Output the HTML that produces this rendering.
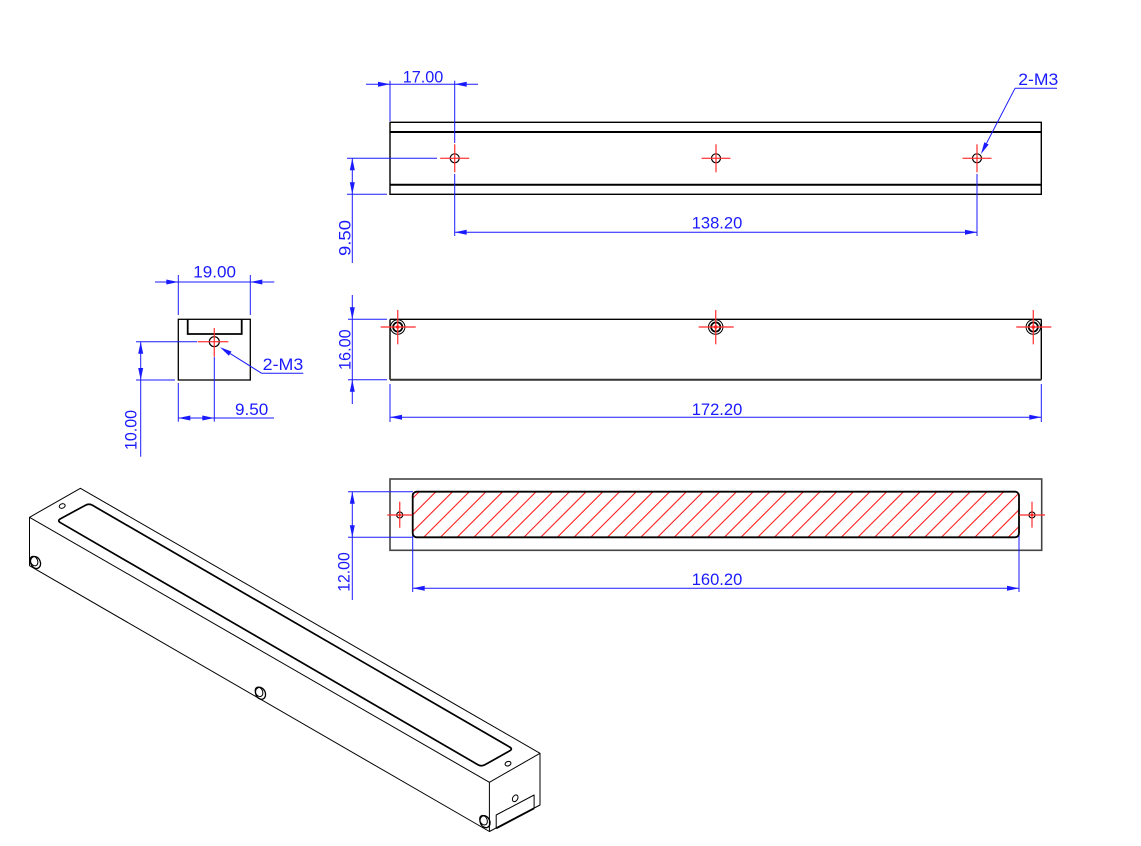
<!DOCTYPE html>
<html>
<head>
<meta charset="utf-8">
<style>
html,body{margin:0;padding:0;background:#fff;}
svg{display:block;}
text{font-family:"Liberation Sans",sans-serif;font-size:17px;fill:#1a1aff;}
</style>
</head>
<body>
<svg width="1141" height="846" viewBox="0 0 1141 846" xmlns="http://www.w3.org/2000/svg">
<defs>
<clipPath id="slotclip"><rect x="412.7" y="491.7" width="606.3" height="45.6" rx="4" ry="4"/></clipPath>
</defs>
<rect x="0" y="0" width="1141" height="846" fill="#fff"/>

<!-- ================= TOP VIEW ================= -->
<g fill="none" stroke="#000">
<rect x="390" y="122.3" width="651.3" height="72" stroke-width="1.4"/>
<line x1="390" y1="132" x2="1041.3" y2="132" stroke-width="2"/>
<line x1="390" y1="184.7" x2="1041.3" y2="184.7" stroke-width="2"/>
<circle cx="454.7" cy="158.3" r="4.5" stroke-width="1.2"/>
<circle cx="716" cy="158.3" r="4.5" stroke-width="1.2"/>
<circle cx="977" cy="158.3" r="4.5" stroke-width="1.2"/>
</g>
<g stroke="#ff2a2a" stroke-opacity="0.85" stroke-width="1.4">
<line x1="440.2" y1="158.3" x2="469.2" y2="158.3"/><line x1="454.7" y1="144.3" x2="454.7" y2="172.3"/>
<line x1="701.5" y1="158.3" x2="730.5" y2="158.3"/><line x1="716" y1="144.3" x2="716" y2="172.3"/>
<line x1="962.5" y1="158.3" x2="991.5" y2="158.3"/><line x1="977" y1="144.3" x2="977" y2="172.3"/>
</g>
<g stroke="#1a1aff" stroke-width="1" fill="none">
<line x1="390" y1="80.7" x2="390" y2="121"/>
<line x1="454.7" y1="80.7" x2="454.7" y2="143"/>
<line x1="454.7" y1="174" x2="454.7" y2="236"/>
<line x1="366" y1="84.3" x2="478" y2="84.3"/>
<line x1="352.3" y1="158.3" x2="352.3" y2="263"/>
<line x1="347" y1="158.3" x2="437" y2="158.3"/>
<line x1="347" y1="194.3" x2="387" y2="194.3"/>
<line x1="977" y1="174" x2="977" y2="236"/>
<line x1="454.7" y1="232.3" x2="977" y2="232.3"/>
<line x1="1015" y1="88.3" x2="1057" y2="88.3"/>
<line x1="1015" y1="88.3" x2="986.5" y2="143.3"/>
</g>
<g fill="#1a1aff">
<polygon points="390,84.3 378,81.8 378,86.8"/>
<polygon points="454.7,84.3 466.7,81.8 466.7,86.8"/>
<polygon points="352.3,158.3 349.8,170.3 354.8,170.3"/>
<polygon points="352.3,194.3 349.8,182.3 354.8,182.3"/>
<polygon points="454.7,232.3 466.7,229.8 466.7,234.8"/>
<polygon points="977,232.3 965,229.8 965,234.8"/>
<polygon points="981,154 988.7,144.5 984.3,142.2"/>
</g>
<text x="402.7" y="82.7" textLength="40.6" lengthAdjust="spacingAndGlyphs">17.00</text>
<text x="691.7" y="228.3" textLength="50.6" lengthAdjust="spacingAndGlyphs">138.20</text>
<text x="1018.3" y="85" textLength="40" lengthAdjust="spacingAndGlyphs">2-M3</text>
<text transform="translate(350.5,256) rotate(-90)" x="0" y="0" textLength="36" lengthAdjust="spacingAndGlyphs">9.50</text>

<!-- ================= SIDE VIEW ================= -->
<g fill="none" stroke="#000">
<rect x="178.3" y="319.3" width="72" height="60.7" stroke-width="1.3"/>
<polyline points="187.7,319.3 187.7,334 241.7,334 241.7,319.3" stroke-width="1.8"/>
<circle cx="214.3" cy="341.7" r="5" stroke-width="1.2"/>
</g>
<g stroke="#ff2a2a" stroke-opacity="0.85" stroke-width="1.4">
<line x1="197.7" y1="341.7" x2="228.3" y2="341.7"/><line x1="214.3" y1="328" x2="214.3" y2="356.7"/>
</g>
<g stroke="#1a1aff" stroke-width="1" fill="none">
<line x1="178.3" y1="275" x2="178.3" y2="315"/>
<line x1="250.3" y1="275" x2="250.3" y2="315"/>
<line x1="155" y1="282" x2="274.3" y2="282"/>
<line x1="140.7" y1="341.7" x2="140.7" y2="456.7"/>
<line x1="136" y1="341.7" x2="197" y2="341.7"/>
<line x1="136" y1="380" x2="175" y2="380"/>
<line x1="178.3" y1="383" x2="178.3" y2="421.7"/>
<line x1="214.3" y1="357" x2="214.3" y2="421.7"/>
<line x1="178.3" y1="418" x2="274" y2="418"/>
<line x1="261.7" y1="373.3" x2="303.3" y2="373.3"/>
<line x1="261.7" y1="373.3" x2="230.2" y2="353.6"/>
</g>
<g fill="#1a1aff">
<polygon points="178.3,282 166.3,279.5 166.3,284.5"/>
<polygon points="250.3,282 262.3,279.5 262.3,284.5"/>
<polygon points="140.7,341.7 138.2,353.7 143.2,353.7"/>
<polygon points="140.7,380 138.2,368 143.2,368"/>
<polygon points="178.3,418 190.3,415.5 190.3,420.5"/>
<polygon points="214.3,418 202.3,415.5 202.3,420.5"/>
<polygon points="220,347.3 231.5,351.5 228.9,355.7"/>
</g>
<text x="193.3" y="277.7" textLength="42.7" lengthAdjust="spacingAndGlyphs">19.00</text>
<text x="262.7" y="370" textLength="40.6" lengthAdjust="spacingAndGlyphs">2-M3</text>
<text x="235" y="415" textLength="33.3" lengthAdjust="spacingAndGlyphs">9.50</text>
<text transform="translate(136.7,450) rotate(-90)" x="0" y="0" textLength="40" lengthAdjust="spacingAndGlyphs">10.00</text>

<!-- ================= FRONT VIEW ================= -->
<g fill="none" stroke="#000">
<line x1="390" y1="319.3" x2="1041.3" y2="319.3" stroke-width="1.4"/>
<line x1="390" y1="319.3" x2="390" y2="379.7" stroke-width="1.4"/>
<line x1="1041.3" y1="319.3" x2="1041.3" y2="379.7" stroke-width="1.4"/>
<line x1="390" y1="379.7" x2="1041.3" y2="379.7" stroke="#333" stroke-width="2"/>
<circle cx="397.7" cy="327" r="7.2" stroke-width="1"/>
<circle cx="397.7" cy="327" r="4.6" stroke-width="1.8"/>
<circle cx="715.7" cy="327" r="7.2" stroke-width="1"/>
<circle cx="715.7" cy="327" r="4.6" stroke-width="1.8"/>
<circle cx="1033.3" cy="327" r="7.2" stroke-width="1"/>
<circle cx="1033.3" cy="327" r="4.6" stroke-width="1.8"/>
</g>
<g stroke="#ff2a2a" stroke-opacity="0.85" stroke-width="1.4">
<line x1="380.7" y1="327" x2="415.7" y2="327"/><line x1="397.7" y1="310" x2="397.7" y2="344.3"/>
<line x1="698.7" y1="327" x2="733.7" y2="327"/><line x1="715.7" y1="310" x2="715.7" y2="344.3"/>
<line x1="1016.3" y1="327" x2="1051.3" y2="327"/><line x1="1033.3" y1="310" x2="1033.3" y2="344.3"/>
</g>
<g fill="#ff2020">
<circle cx="397.7" cy="327" r="1.8"/><circle cx="715.7" cy="327" r="1.8"/><circle cx="1033.3" cy="327" r="1.8"/>
</g>
<g stroke="#1a1aff" stroke-width="1" fill="none">
<line x1="352.3" y1="295" x2="352.3" y2="404"/>
<line x1="348" y1="319.3" x2="387" y2="319.3"/>
<line x1="348" y1="379.7" x2="387" y2="379.7"/>
<line x1="390" y1="384" x2="390" y2="422"/>
<line x1="1041.3" y1="384" x2="1041.3" y2="422"/>
<line x1="390" y1="417.3" x2="1041.3" y2="417.3"/>
</g>
<g fill="#1a1aff">
<polygon points="352.3,319.3 349.8,307.3 354.8,307.3"/>
<polygon points="352.3,379.7 349.8,391.7 354.8,391.7"/>
<polygon points="390,417.3 402,414.8 402,419.8"/>
<polygon points="1041.3,417.3 1029.3,414.8 1029.3,419.8"/>
</g>
<text transform="translate(350.7,370) rotate(-90)" x="0" y="0" textLength="40.7" lengthAdjust="spacingAndGlyphs">16.00</text>
<text x="691.7" y="415" textLength="50.6" lengthAdjust="spacingAndGlyphs">172.20</text>

<!-- ================= BOTTOM VIEW ================= -->
<rect x="390" y="479" width="651.7" height="71.3" fill="none" stroke="#444" stroke-width="1.6"/>
<g clip-path="url(#slotclip)" stroke="#ff2020" stroke-width="1.1">
<path d="M373.9 537L419.9 491M390.6 537L436.6 491M407.3 537L453.3 491M424 537L470 491M440.7 537L486.7 491M457.4 537L503.4 491M474.1 537L520.1 491M490.8 537L536.8 491M507.5 537L553.5 491M524.2 537L570.2 491M540.9 537L586.9 491M557.6 537L603.6 491M574.3 537L620.3 491M591 537L637 491M607.7 537L653.7 491M624.4 537L670.4 491M641.1 537L687.1 491M657.8 537L703.8 491M674.5 537L720.5 491M691.2 537L737.2 491M707.9 537L753.9 491M724.6 537L770.6 491M741.3 537L787.3 491M758 537L804 491M774.7 537L820.7 491M791.4 537L837.4 491M808.1 537L854.1 491M824.8 537L870.8 491M841.5 537L887.5 491M858.2 537L904.2 491M874.9 537L920.9 491M891.6 537L937.6 491M908.3 537L954.3 491M925 537L971 491M941.7 537L987.7 491M958.4 537L1004.4 491M975.1 537L1021.1 491M991.8 537L1037.8 491M1008.5 537L1054.5 491"/>
</g>
<g stroke="#1a1aff" stroke-width="1" fill="none">
<line x1="352.3" y1="491.7" x2="352.3" y2="600"/>
<line x1="348" y1="491.7" x2="413" y2="491.7"/>
<line x1="348" y1="537.3" x2="413" y2="537.3"/>
<line x1="412.7" y1="493" x2="412.7" y2="592"/>
<line x1="1019" y1="535" x2="1019" y2="592"/>
<line x1="412.7" y1="588.3" x2="1019" y2="588.3"/>
</g>
<rect x="412.7" y="491.7" width="606.3" height="45.6" rx="4" ry="4" fill="none" stroke="#000" stroke-width="1.8"/>
<g fill="none" stroke="#000" stroke-width="1.2">
<circle cx="399.7" cy="515" r="3"/>
<circle cx="1032" cy="515" r="3"/>
</g>
<g stroke="#ff2a2a" stroke-opacity="0.85" stroke-width="1.4">
<line x1="387.3" y1="515" x2="412.3" y2="515"/><line x1="399.7" y1="501.7" x2="399.7" y2="527.7"/>
<line x1="1019.3" y1="515" x2="1045" y2="515"/><line x1="1032" y1="501.7" x2="1032" y2="527.7"/>
</g>
<g fill="#ff2020"><circle cx="399.7" cy="515" r="1.2"/><circle cx="1032" cy="515" r="1.2"/></g>
<g fill="#1a1aff">
<polygon points="352.3,491.7 349.8,503.7 354.8,503.7"/>
<polygon points="352.3,537.3 349.8,525.3 354.8,525.3"/>
<polygon points="412.7,588.3 424.7,585.8 424.7,590.8"/>
<polygon points="1019,588.3 1007,585.8 1007,590.8"/>
</g>
<text transform="translate(349.3,591.7) rotate(-90)" x="0" y="0" textLength="39.4" lengthAdjust="spacingAndGlyphs">12.00</text>
<text x="691.7" y="585" textLength="50.6" lengthAdjust="spacingAndGlyphs">160.20</text>

<!-- ================= ISOMETRIC ================= -->
<g fill="none" stroke="#000" stroke-width="1" stroke-linejoin="round">
<polyline points="29.5,565.7 29.5,517.3 80.4,488.3 540,753.3 540,805 489.4,831.5 29.5,565.7"/>
<line x1="29.5" y1="517.3" x2="489.4" y2="782.3"/>
<line x1="489.4" y1="782.3" x2="540" y2="753.3"/>
<line x1="489.4" y1="782.3" x2="489.4" y2="831.5"/>
<path d="M60.5 518.8 L85.5 505.2 Q89 503.3 92.5 505.3 L509.6 747 Q513.1 749 509.6 750.9 L484.9 764.8 Q481.4 766.7 477.9 764.7 L60.5 522.7 Q57 520.7 60.5 518.8 Z" stroke-width="1.7"/>
<ellipse cx="62.2" cy="506" rx="3" ry="2.2" transform="rotate(-20 62.2 506)"/>
<ellipse cx="508" cy="763.7" rx="3" ry="2.2" transform="rotate(-20 508 763.7)"/>
<ellipse cx="35.5" cy="562.5" rx="4.8" ry="6.2" transform="rotate(-25 35.5 562.5)" stroke-width="1.3"/>
<ellipse cx="34" cy="561" rx="3.6" ry="5" transform="rotate(-25 34 561)"/>
<ellipse cx="260.5" cy="693.3" rx="4.8" ry="6.2" transform="rotate(-25 260.5 693.3)" stroke-width="1.3"/>
<ellipse cx="259" cy="691.8" rx="3.6" ry="5" transform="rotate(-25 259 691.8)"/>
<ellipse cx="485" cy="821.7" rx="4.8" ry="6.2" transform="rotate(-25 485 821.7)" stroke-width="1.3"/>
<ellipse cx="483.5" cy="820.2" rx="3.6" ry="5" transform="rotate(-25 483.5 820.2)"/>
<polyline points="496.2,828.3 496.2,815 534.1,795 534.1,808.3"/>
<line x1="496.2" y1="828.3" x2="534.1" y2="808.3" stroke-width="1.8"/>
<ellipse cx="515.2" cy="798.3" rx="2.5" ry="3.6" transform="rotate(30 515.2 798.3)"/>
</g>
</svg>
</body>
</html>
